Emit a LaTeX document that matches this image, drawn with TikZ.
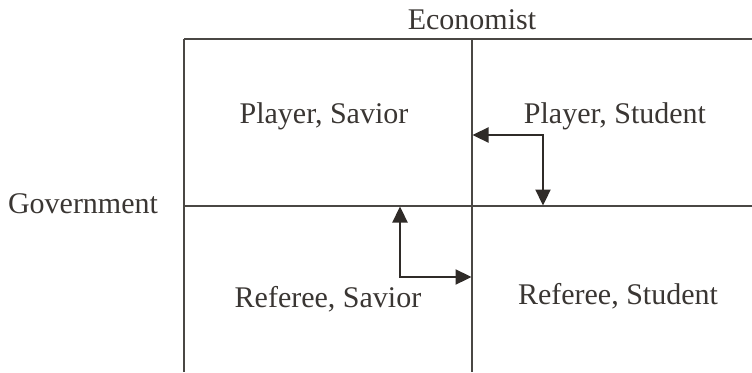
\documentclass[tikz,border=0pt]{standalone}
\usepackage{fontspec}
\setmainfont{Liberation Serif}
\usetikzlibrary{arrows.meta}
\definecolor{txt}{HTML}{3A3633}
\definecolor{gridc}{HTML}{4A4744}
\definecolor{arrc}{HTML}{2F2B28}
\tikzset{
  lbl/.style={anchor=base, inner sep=0pt, text=txt, font=\fontsize{30}{36}\selectfont},
  gridline/.style={draw=gridc, line width=1.1pt},
  flow/.style={draw=arrc, line width=2.3pt, {Triangle[length=16pt,width=15pt]}-{Triangle[length=16pt,width=15pt]}}
}
\begin{document}
\begin{tikzpicture}[x=1pt,y=-1pt]
\useasboundingbox (0,0) rectangle (752,372);
% grid corners
\coordinate (tl) at (184,39);
\coordinate (tr) at (752,39);
\coordinate (tm) at (472,39);
\coordinate (bl) at (184,372);
\coordinate (bm) at (472,372);
\coordinate (ml) at (184,206);
\coordinate (mr) at (752,206);
\draw[gridline] (tl) -- (tr);
\draw[gridline] (tl) -- (bl);
\draw[gridline] (tm) -- (bm);
\draw[gridline] (ml) -- (mr);
% labels
\node[lbl] (econ) at (472,29) {Economist};
\node[lbl] (gov) at (83,213) {Government};
\node[lbl] (ps) at (324,123) {Player, Savior};
\node[lbl] (pst) at (615,123) {Player, Student};
\node[lbl] (rs) at (328,307) {Referee, Savior};
\node[lbl] (rst) at (618,304) {Referee, Student};
% arrows
\coordinate (a1s) at (472.5,135);
\coordinate (a1c) at (543,135);
\coordinate (a1e) at (543,205.5);
\draw[flow] (a1s) -- (a1c) -- (a1e);
\coordinate (a2s) at (400,206.5);
\coordinate (a2c) at (400,277);
\coordinate (a2e) at (471.5,277);
\draw[flow] (a2s) -- (a2c) -- (a2e);
\end{tikzpicture}
\end{document}
